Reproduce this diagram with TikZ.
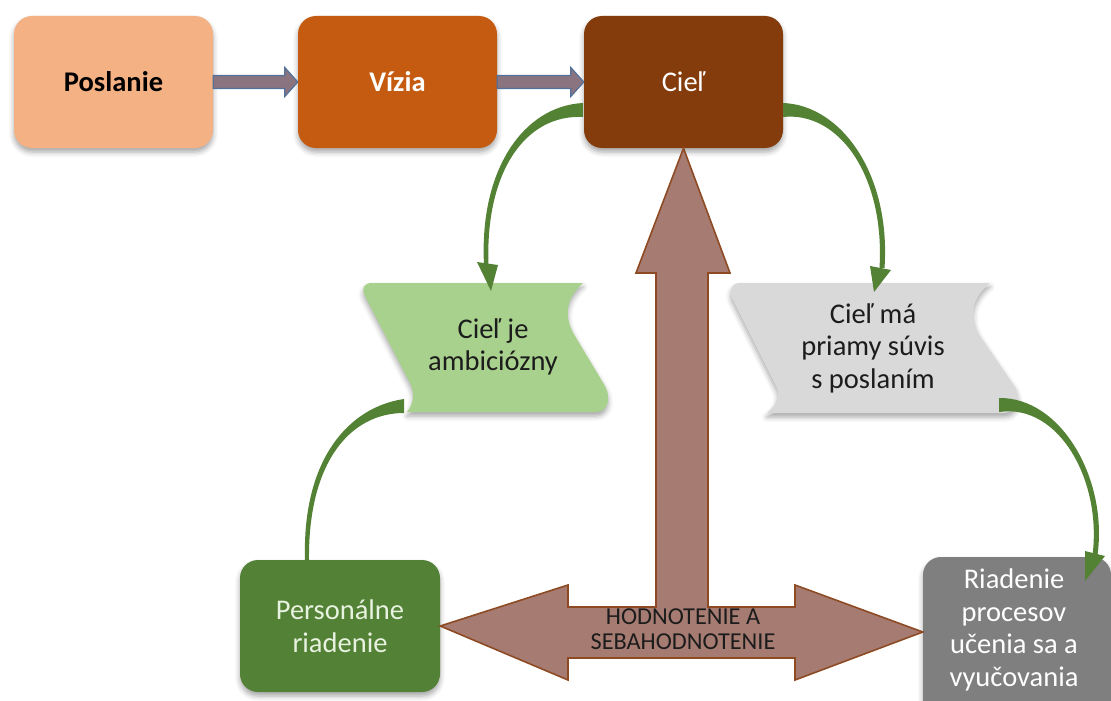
\documentclass[tikz,border=0pt]{standalone}
\usepackage{fontspec}
\setmainfont{Carlito}
\usetikzlibrary{calc,shadows.blur}

\definecolor{cPos}{HTML}{F4B183}
\definecolor{cViz}{HTML}{C55A11}
\definecolor{cCiel}{HTML}{843C0C}
\definecolor{cBanG}{HTML}{A9D18E}
\definecolor{cBanS}{HTML}{D9D9D9}
\definecolor{cPers}{HTML}{538135}
\definecolor{cPersTxt}{HTML}{E8F2E0}
\definecolor{cRp}{HTML}{7F7F7F}
\definecolor{cCurve}{HTML}{548235}
\definecolor{cBig}{HTML}{A67B72}
\definecolor{cBigLine}{HTML}{8E4A22}
\definecolor{cSmall}{HTML}{8A7480}
\definecolor{cSmallLine}{HTML}{52729C}
\definecolor{cInk}{HTML}{1C1C1C}

\begin{document}
\begin{tikzpicture}[x=1pt,y=-1pt,
  softshadow/.style={blur shadow={shadow xshift=0pt,shadow yshift=-4pt,shadow blur radius=5pt,shadow opacity=35}},
  box/.style={rectangle,rounded corners=18pt,minimum width=199pt,minimum height=132pt,
    inner sep=0pt,align=center,font=\fontsize{28.5}{32.5}\selectfont,softshadow},
  label/.style={align=center,inner sep=0pt,font=\fontsize{28.5}{32.5}\selectfont},
  bantext/.style={label,text=cInk},
  smallarr/.style={fill=cSmall,draw=cSmallLine,line width=1.2pt,line join=miter},
  bigarr/.style={fill=cBig,draw=cBigLine,line width=1.6pt,line join=miter},
  curve/.style={fill=cCurve}]
\useasboundingbox (0,0) rectangle (1111,701);
\clip (0,0) rectangle (1111,701);

% wave-shaped banners
\path[fill=cBanG,softshadow]
  (372,283) -- (583,283)
  .. controls (566,298) and (563,316) .. (575,336)
  -- (605,386) .. controls (612,399) and (607,412) .. (596,412)
  -- (407,412) .. controls (414,403) and (415,393) .. (410,383)
  -- (365,296) .. controls (361,288) and (364,283) .. (372,283) -- cycle;
\path[fill=cBanS,softshadow]
  (740,283) -- (990,283)
  .. controls (972,298) and (968,316) .. (980,336)
  -- (1015,387) .. controls (1022,400) and (1016,413) .. (1004,413)
  -- (767,413) .. controls (778,404) and (781,394) .. (775,384)
  -- (732,298) .. controls (729,290) and (732,283) .. (740,283) -- cycle;
\node[bantext] (amb) at (493,347) {Cieľ je\\ambiciózny};
\node[bantext] (suv) at (873,348) {Cieľ má\\priamy súvis\\s poslaním};

% boxes
\node[box,fill=cPos,text=black] (pos) at (113.5,82) {\textbf{Poslanie}};
\node[box,fill=cViz,text=white] (viz) at (397.5,82) {\textbf{Vízia}};
\node[box,fill=cCiel,text=white] (ciel) at (683.5,82) {Cieľ};
\node[box,fill=cRp,minimum width=188pt,minimum height=170pt] (rp) at (1017,642) {};
\node[label,text=white] (rpt) at (1014,630) {Riadenie\\procesov\\učenia sa a\\vyučovania};

% tapered curved connectors (wide at the start, thin towards the head)
\fill[curve] (404,399) .. controls (349,407) and (302,459) .. (305,560)
  -- (309,560) .. controls (308,461) and (351,413) .. (404,413) -- cycle;
\node[box,fill=cPers,text=cPersTxt,minimum width=200pt] (pers) at (340,626) {Personálne\\riadenie};

\fill[curve] (583,103) .. controls (524,106) and (479,169) .. (484,265)
  -- (488.5,265) .. controls (485,171) and (526,114) .. (583,117) -- cycle;
\fill[curve] (477,262) -- (498,265) -- (491,291) -- cycle;

\fill[curve] (783,103) .. controls (841,105) and (891,174) .. (884.5,268)
  -- (879.5,268) .. controls (885,176) and (839,111) .. (783,117) -- cycle;
\fill[curve] (870,266) -- (891,270) -- (874,292) -- cycle;

\fill[curve] (999,398) .. controls (1061,397) and (1108,479) .. (1097.5,555)
  -- (1092.5,555) .. controls (1102,481) and (1059,403) .. (999,412) -- cycle;
\fill[curve] (1085,551) -- (1105,556) -- (1085,581) -- cycle;

% block arrows between the top boxes
\draw[smallarr] ($(pos.east)+(0,-6.5)$) -- ($(viz.west)+(-13,-6.5)$) -- ($(viz.west)+(-13,-14.5)$)
  -- (viz.west) -- ($(viz.west)+(-13,14.5)$) -- ($(viz.west)+(-13,6.5)$) -- ($(pos.east)+(0,6.5)$) -- cycle;
\draw[smallarr] ($(viz.east)+(0,-6.5)$) -- ($(ciel.west)+(-13,-6.5)$) -- ($(ciel.west)+(-13,-14.5)$)
  -- (ciel.west) -- ($(ciel.west)+(-13,14.5)$) -- ($(ciel.west)+(-13,6.5)$) -- ($(viz.east)+(0,6.5)$) -- cycle;

% three-way block arrow
\draw[bigarr] (ciel.south) -- (730,273) -- (708,273) -- (708,607) -- (795,607) -- (795,585)
  -- (rp.west |- 0,632) -- (795,680) -- (795,658) -- (568,658) -- (568,680)
  -- (pers.east) -- (568,585) -- (568,607) -- (656,607) -- (656,273) -- (636,273) -- cycle;
\node[align=center,inner sep=0pt,text=cInk,font=\fontsize{24.3}{25}\selectfont] (hod) at (683,629)
  {HODNOTENIE A\\SEBAHODNOTENIE};
\end{tikzpicture}
\end{document}
